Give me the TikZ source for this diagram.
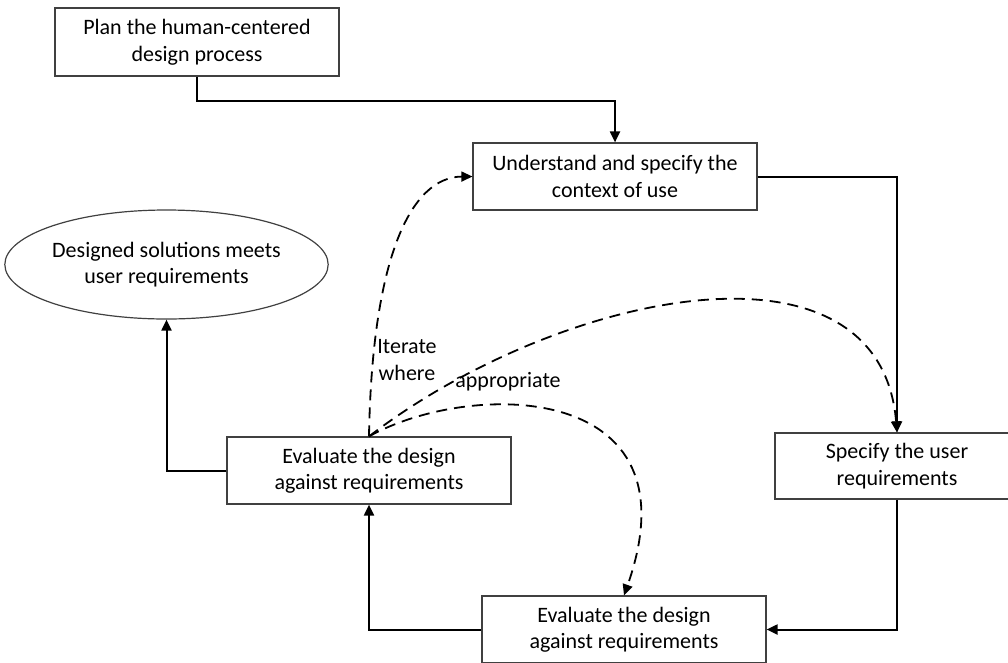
\documentclass[tikz,border=0pt]{standalone}
\usepackage{fontspec}
\setmainfont{Carlito}
\usetikzlibrary{shapes.geometric, arrows, positioning}
\usetikzlibrary{positioning, arrows.meta}
\usepackage{xcolor}

\begin{document}
\begin{tikzpicture}[x=1pt, y=-1pt,
  font=\fontsize{22}{26.5}\selectfont,
  stagebox/.style={draw=black!75, line width=1.2pt, rectangle, align=center, minimum width=284pt, minimum height=67pt, inner sep=0pt},
  conn/.style={line width=2pt, -{Triangle[length=11pt, width=10pt]}},
  iter/.style={line width=1.8pt, dash pattern=on 11pt off 7pt, -{Triangle[length=11pt, width=10pt]}}]
\useasboundingbox (0,0) rectangle (1008,662);
\node[stagebox, minimum height=68pt] (plan) at (197,42) {Plan the human-centered\\design process};
\node[stagebox] (context) at (615,176.5) {Understand and specify the\\context of use};
\node[draw=black!75, line width=1.2pt, ellipse, align=center, minimum width=311pt, minimum height=109pt, inner sep=0pt] (goal) at (166.5,264.5) {Designed solutions meets\\user requirements};
\node[stagebox] (evaltop) at (369,470.5) {Evaluate the design\\against requirements};
\node[stagebox, minimum width=244pt, minimum height=66pt] (userreq) at (897,466) {Specify the user\\requirements};
\node[stagebox] (evalbottom) at (624,629.5) {Evaluate the design\\against requirements};
\node[align=center] (iterlabel) at (407,360) {Iterate\\where};
\node (approp) at (508,382) {appropriate};
\coordinate (bend) at (197,101);
\draw[conn] (plan.south) -- (bend) -| (context.north);
\draw[conn] (context.east) -| (userreq.north);
\draw[conn] (userreq.south) |- (evalbottom.east);
\draw[conn] (evalbottom.west) -| (evaltop.south);
\draw[conn] (evaltop.west) -| (goal.south);
\draw[iter] (evaltop.north) .. controls (372,260) and (410,177) .. (context.west);
\draw[iter] (evaltop.north) .. controls (560,290) and (880,225) .. (userreq.north);
\draw[iter] (evaltop.north) .. controls (470,380) and (700,380) .. (evalbottom.north);
\end{tikzpicture}
\end{document}
